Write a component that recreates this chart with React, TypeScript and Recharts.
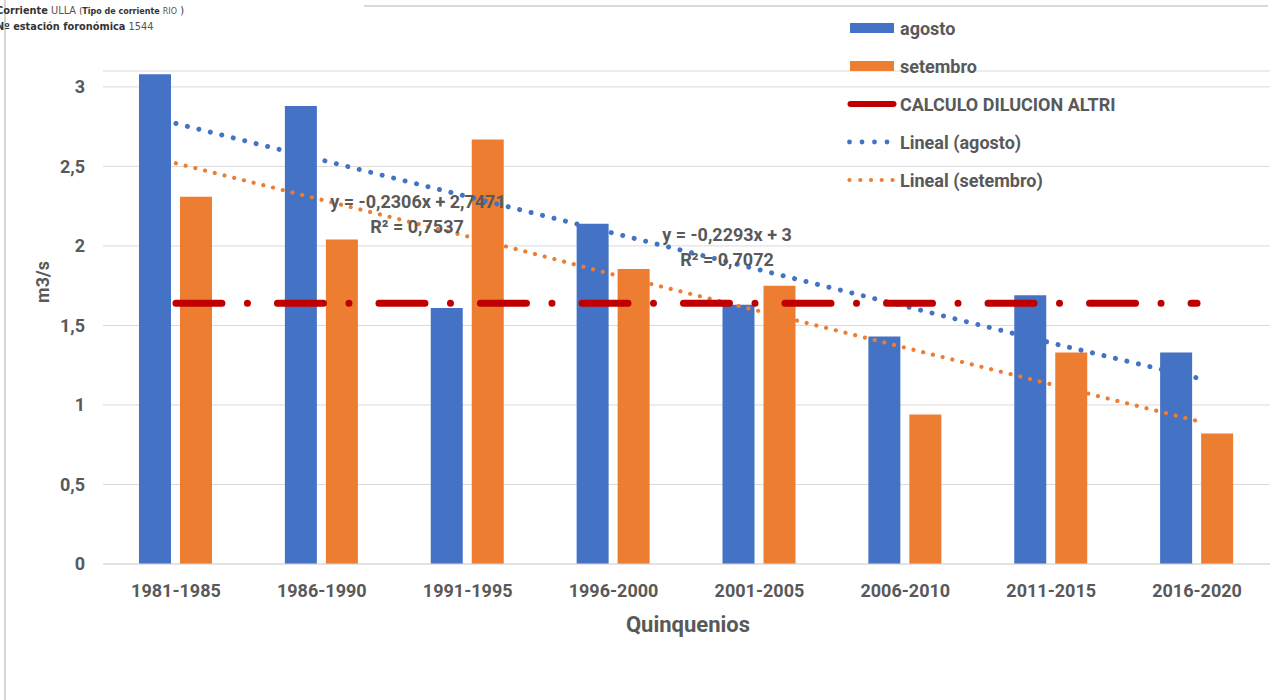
import React from 'react';
import {
  ComposedChart,
  Bar,
  Line,
  XAxis,
  YAxis,
  CartesianGrid,
  Legend,
  Label,
} from 'recharts';

const categories = [
  '1981-1985',
  '1986-1990',
  '1991-1995',
  '1996-2000',
  '2001-2005',
  '2006-2010',
  '2011-2015',
  '2016-2020',
];
const agosto = [3.08, 2.88, 1.61, 2.14, 1.63, 1.43, 1.69, 1.33];
const setembro = [2.31, 2.04, 2.67, 1.855, 1.75, 0.94, 1.33, 0.82];
const dilucion = [1.64, 1.64, 1.64, 1.64, 1.64, 1.64, 1.64, 1.64];
const linealAgosto = [2.77, 2.54, 2.31, 2.08, 1.85, 1.62, 1.39, 1.17];
const linealSetembro = [2.52, 2.29, 2.06, 1.82, 1.59, 1.36, 1.13, 0.9];
const yTicks = [0, 0.5, 1, 1.5, 2, 2.5, 3];
const equations = [
  { eq: 'y = -0,2306x + 2,7471', r2: 'R² = 0,7537' },
  { eq: 'y = -0,2293x + 3', r2: 'R² = 0,7072' },
];

const data = categories.map((c, i) => ({
  periodo: c,
  agosto: agosto[i],
  setembro: setembro[i],
  dilucion: dilucion[i],
  linealAgosto: linealAgosto[i],
  linealSetembro: linealSetembro[i],
}));

const BLUE = '#4472C4';
const ORANGE = '#ED7D31';
const RED = '#C00000';
const TEXT = '#595959';
const GRID = '#D9D9D9';
const FONT = 'Roboto, "Open Sans", sans-serif';

const order = ['agosto', 'setembro', 'dilucion', 'linealAgosto', 'linealSetembro'];

const legendIcon = (key: string) => {
  switch (key) {
    case 'agosto':
      return <rect x={3} y={2} width={44} height={10} fill={BLUE} />;
    case 'setembro':
      return <rect x={3} y={2} width={44} height={10} fill={ORANGE} />;
    case 'dilucion':
      return (
        <line x1={3.5} y1={7} x2={46.5} y2={7} stroke={RED} strokeWidth={6} strokeLinecap="round" />
      );
    case 'linealAgosto':
      return (
        <g fill={BLUE}>
          {[2.5, 15, 27.5, 40].map((cx) => (
            <circle key={cx} cx={cx} cy={7} r={2.4} />
          ))}
        </g>
      );
    default:
      return (
        <g fill={ORANGE}>
          {[2.5, 13.3, 24, 34.7, 45.5].map((cx) => (
            <circle key={cx} cx={cx} cy={7} r={2.1} />
          ))}
        </g>
      );
  }
};

const renderLegend = (props: any) => {
  const payload = [...(props.payload || [])].sort(
    (a: any, b: any) => order.indexOf(String(a.dataKey)) - order.indexOf(String(b.dataKey))
  );
  return (
    <div style={{ fontFamily: FONT, fontWeight: 700, fontSize: 18, color: TEXT }}>
      {payload.map((entry: any) => (
        <div
          key={String(entry.dataKey)}
          style={{ display: 'flex', alignItems: 'center', height: 38, whiteSpace: 'nowrap' }}
        >
          <svg width={50} height={14} style={{ display: 'block' }}>
            {legendIcon(String(entry.dataKey))}
          </svg>
          <span style={{ marginLeft: 3 }}>{entry.value}</span>
        </div>
      ))}
    </div>
  );
};

const fmt = (v: number) => String(v).replace('.', ',');

export default function App() {
  return (
    <div
      style={{
        position: 'absolute',
        left: 0,
        top: 0,
        width: 1273,
        height: 700,
        background: '#fff',
        overflow: 'hidden',
      }}
    >
      <div
        style={{
          position: 'absolute',
          left: 4,
          top: 0,
          width: 2,
          height: 700,
          background: '#D6D6D6',
        }}
      />
      <div
        style={{
          position: 'absolute',
          left: 364,
          top: 5,
          width: 904,
          height: 2,
          background: '#D9D9D9',
        }}
      />
      <div
        style={{
          position: 'absolute',
          left: -4,
          top: 3,
          fontFamily: '"DejaVu Sans", sans-serif',
          fontSize: 9.8,
          lineHeight: '15px',
          color: '#333',
          whiteSpace: 'nowrap',
        }}
      >
        <div>
          <b>Corriente</b> <span style={{ color: '#555' }}>ULLA</span>{' '}
          <span style={{ fontSize: 8 }}>(<b>Tipo de corriente</b></span>{' '}
          <span style={{ fontSize: 8, color: '#555' }}>RIO</span> )
        </div>
        <div>
          <b>Nº estación foronómica</b> <span style={{ color: '#555' }}>1544</span>
        </div>
      </div>
      <div style={{ position: 'absolute', left: 0, top: 0 }}>
        <ComposedChart
          width={1273}
          height={700}
          data={data}
          margin={{ top: 71, right: 3, left: 0, bottom: 0 }}
          barSize={32}
          barGap={9}
        >
          <CartesianGrid vertical={false} stroke={GRID} strokeWidth={1} />
          <XAxis
            dataKey="periodo"
            height={136}
            axisLine={{ stroke: GRID }}
            tickLine={false}
            tickSize={0}
            tickMargin={20}
            tick={{ fill: TEXT, fontSize: 18, fontWeight: 700, fontFamily: FONT }}
            interval={0}
          >
            <Label
              content={() => (
                <text
                  x={688}
                  y={632}
                  textAnchor="middle"
                  fontFamily={FONT}
                  fontWeight={700}
                  fontSize={22}
                  fill={TEXT}
                >
                  Quinquenios
                </text>
              )}
            />
          </XAxis>
          <YAxis
            width={103}
            domain={[0, 3.1]}
            ticks={yTicks}
            axisLine={false}
            tickLine={false}
            tickSize={0}
            tickMargin={18}
            tickFormatter={fmt}
            tick={{ fill: TEXT, fontSize: 18, fontWeight: 700, fontFamily: FONT }}
          >
            <Label
              content={() => (
                <text
                  x={42}
                  y={282}
                  transform="rotate(-90 42 282)"
                  textAnchor="middle"
                  dominantBaseline="central"
                  fontFamily={FONT}
                  fontWeight={700}
                  fontSize={18}
                  fill={TEXT}
                >
                  m3/s
                </text>
              )}
            />
          </YAxis>
          <Legend
            layout="vertical"
            align="center"
            verticalAlign="middle"
            wrapperStyle={{ left: 847, top: 9, width: 320, height: 200 }}
            content={renderLegend}
          />
          <Bar dataKey="agosto" name="agosto" fill={BLUE} isAnimationActive={false} />
          <Bar dataKey="setembro" name="setembro" fill={ORANGE} isAnimationActive={false} />
          <Line
            dataKey="linealAgosto"
            name="Lineal (agosto)"
            type="linear"
            stroke={BLUE}
            strokeWidth={5}
            strokeDasharray="0.01 11.8"
            strokeLinecap="round"
            dot={false}
            activeDot={false}
            isAnimationActive={false}
          />
          <Line
            dataKey="linealSetembro"
            name="Lineal (setembro)"
            type="linear"
            stroke={ORANGE}
            strokeWidth={4.2}
            strokeDasharray="0.01 10"
            strokeLinecap="round"
            dot={false}
            activeDot={false}
            isAnimationActive={false}
          />
          <Line
            dataKey="dilucion"
            name="CALCULO DILUCION ALTRI"
            type="linear"
            stroke={RED}
            strokeWidth={7}
            strokeDasharray="46 25.5 0.01 30"
            strokeLinecap="round"
            dot={false}
            activeDot={false}
            isAnimationActive={false}
          />
        </ComposedChart>
      </div>
      <svg
        width={1273}
        height={700}
        style={{ position: 'absolute', left: 0, top: 0, pointerEvents: 'none' }}
      >
        <g fontFamily={FONT} fontWeight={700} fontSize={18} fill={TEXT} textAnchor="middle">
          <text x={418} y={208}>{equations[0].eq}</text>
          <text x={417} y={233}>{equations[0].r2}</text>
          <text x={727} y={241}>{equations[1].eq}</text>
          <text x={727} y={266}>{equations[1].r2}</text>
        </g>
      </svg>
    </div>
  );
}
